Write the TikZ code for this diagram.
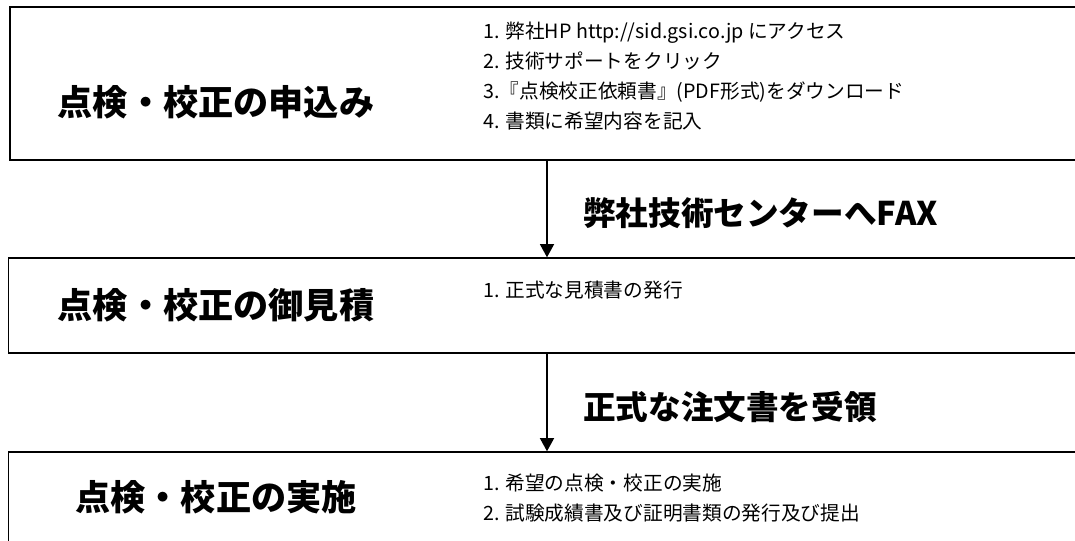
\documentclass[tikz,border=0pt]{standalone}
\usepackage{fontspec}
\setmainfont{Noto Sans CJK JP}
\usetikzlibrary{arrows.meta}

\begin{document}
\begin{tikzpicture}[
  stage/.style={rectangle,draw,line width=1pt,minimum width=26.9cm},
  title/.style={inner sep=0pt,font=\fontsize{25}{30}\selectfont\bfseries},
  items/.style={anchor=west,align=left,inner sep=0pt,font=\fontsize{14}{21.3}\selectfont},
  via/.style={anchor=west,inner sep=0pt,font=\fontsize{23.2}{28}\selectfont\bfseries},
  flow/.style={line width=1.2pt,-{Triangle[length=3.3mm,width=3.5mm]}}]

  \useasboundingbox (0,0) rectangle (26.875,-13.5);

  \node[stage,minimum height=3.825cm] (apply) at (13.7,-2.0875) {};
  \node[stage,minimum height=2.375cm] (quote) at (13.66,-7.6375) {};
  \node[stage,minimum height=2.7cm] (exec) at (13.66,-12.65) {};

  \node[title] (t1) at (5.4,-2.55) {点検・校正の申込み};
  \node[title] (t2) at (5.4,-7.625) {点検・校正の御見積};
  \node[title] (t3) at (5.4,-12.425) {点検・校正の実施};

  \node[items] (l1) at (12.075,-1.9) {1. 弊社HP http://sid.gsi.co.jp にアクセス\\
    2. 技術サポートをクリック\\
    3.『点検校正依頼書』(PDF形式)をダウンロード\\
    4. 書類に希望内容を記入};
  \node[items] (l2) at (12.075,-7.25) {1. 正式な見積書の発行};
  \node[items] (l3) at (12.075,-12.46) {1. 希望の点検・校正の実施\\
    2. 試験成績書及び証明書類の発行及び提出};

  \coordinate (ax) at (13.675,0);
  \draw[flow] (apply.south -| ax) -- (quote.north -| ax);
  \draw[flow] (quote.south -| ax) -- (exec.north -| ax);

  \node[via] (fax) at (14.575,-5.325) {弊社技術センターへFAX};
  \node[via] (order) at (14.575,-10.175) {正式な注文書を受領};
\end{tikzpicture}
\end{document}
